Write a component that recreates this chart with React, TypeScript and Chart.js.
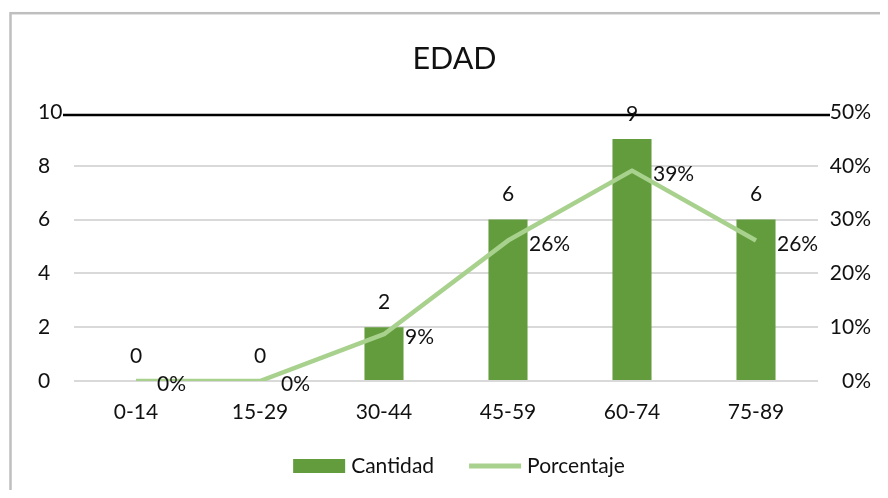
import { useEffect, useRef } from "react";
import { Chart, registerables } from "chart.js";

Chart.register(...registerables);

const title = "EDAD";
const categories = ["0-14", "15-29", "30-44", "45-59", "60-74", "75-89"];
const cantidad = [0, 0, 2, 6, 9, 6];
const porcentaje = [0, 0, 8.7, 26.1, 39.1, 26.1];
const seriesNames = ["Cantidad", "Porcentaje"];
const leftMax = 10;
const leftStep = 2;
const rightMax = 50;
const rightStep = 10;

const FONT = "Lato, 'Open Sans', sans-serif";
const FS = 21;
const BAR_COLOR = "#629C3C";
const LINE_COLOR = "#A9D18E";
const TEXT_COLOR = "#111111";

const decorPlugin = {
  id: "decor",
  beforeDraw(chart: any) {
    const { ctx, width, height } = chart;
    ctx.save();
    ctx.strokeStyle = "#bfbfbf";
    ctx.lineWidth = 2.5;
    ctx.strokeRect(2.5, 5.2, width + 20, height + 20);
    ctx.restore();
  },
  beforeDatasetsDraw(chart: any) {
    const { ctx, chartArea } = chart;
    ctx.save();
    ctx.strokeStyle = "#000";
    ctx.lineWidth = 2.5;
    ctx.beginPath();
    const y = chartArea.top + 3;
    ctx.moveTo(chartArea.left - 11, y);
    ctx.lineTo(chartArea.right + 12, y);
    ctx.stroke();
    ctx.restore();
  },
  afterDatasetsDraw(chart: any) {
    const { ctx } = chart;
    ctx.save();
    ctx.fillStyle = TEXT_COLOR;
    ctx.font = `${FS}px ${FONT}`;
    ctx.textBaseline = "middle";
    chart.data.datasets.forEach((ds: any, di: number) => {
      const meta = chart.getDatasetMeta(di);
      meta.data.forEach((el: any, i: number) => {
        const v = ds.data[i];
        if (ds.type === "bar") {
          ctx.textAlign = "center";
          ctx.fillText(String(v), el.x, el.y - 25);
        } else {
          ctx.textAlign = "left";
          ctx.fillText(Math.round(v) + "%", el.x + 21, el.y + 3.5);
        }
      });
    });
    ctx.restore();
  },
  afterDraw(chart: any) {
    const { ctx } = chart;
    ctx.save();
    ctx.font = `${FS}px ${FONT}`;
    ctx.textBaseline = "middle";
    ctx.textAlign = "left";
    const sw = 52;
    const gapText = 6;
    const gapItem = 35;
    const w1 = ctx.measureText(seriesNames[0]).width;
    const w2 = ctx.measureText(seriesNames[1]).width;
    const total = sw + gapText + w1 + gapItem + sw + gapText + w2;
    const cx = 451;
    const cy = 458;
    let x = cx - total / 2;
    ctx.fillStyle = BAR_COLOR;
    ctx.fillRect(x, cy - 7, sw, 14);
    x += sw + gapText;
    ctx.fillStyle = TEXT_COLOR;
    ctx.fillText(seriesNames[0], x, cy);
    x += w1 + gapItem;
    ctx.strokeStyle = LINE_COLOR;
    ctx.lineWidth = 5;
    ctx.beginPath();
    ctx.moveTo(x, cy);
    ctx.lineTo(x + sw, cy);
    ctx.stroke();
    x += sw + gapText;
    ctx.fillText(seriesNames[1], x, cy);
    ctx.restore();
  },
};

export default function App() {
  const ref = useRef<HTMLCanvasElement>(null);
  useEffect(() => {
    if (!ref.current) return;
    const chart = new Chart(ref.current, {
      data: {
        labels: categories,
        datasets: [
          {
            type: "line",
            label: seriesNames[1],
            data: porcentaje,
            yAxisID: "y1",
            borderColor: LINE_COLOR,
            borderWidth: 4.5,
            pointRadius: 0,
            borderJoinStyle: "round",
            borderCapStyle: "butt",
            tension: 0,
            order: 0,
          },
          {
            type: "bar",
            label: seriesNames[0],
            data: cantidad,
            yAxisID: "y",
            backgroundColor: BAR_COLOR,
            barPercentage: 0.315,
            categoryPercentage: 1,
            order: 1,
          },
        ],
      } as any,
      options: {
        responsive: false,
        animation: false,
        layout: { padding: { left: 30, right: 9, top: 0, bottom: 59 } },
        plugins: {
          legend: { display: false },
          tooltip: { enabled: false },
          title: {
            display: true,
            text: title,
            color: TEXT_COLOR,
            font: { family: FONT, size: 30.5, weight: "normal", lineHeight: 1.2 },
            padding: { top: 32.7, bottom: 34.7 },
          },
        },
        scales: {
          x: {
            offset: true,
            grid: { display: false, drawTicks: false },
            border: { display: false },
            ticks: { color: TEXT_COLOR, font: { family: FONT, size: FS }, padding: 18.5 },
            afterFit: (s: any) => {
              s.height = 50;
            },
          },
          y: {
            position: "left",
            min: 0,
            max: leftMax,
            grid: {
              drawTicks: false,
              lineWidth: 2,
              color: (c: any) => (c.tick && c.tick.value === leftMax ? "rgba(0,0,0,0)" : "#d9d9d9"),
            },
            border: { display: false },
            ticks: {
              stepSize: leftStep,
              color: TEXT_COLOR,
              font: { family: FONT, size: FS },
              crossAlign: "far",
              padding: 8,
            },
            afterFit: (s: any) => {
              s.width = 36;
            },
          },
          y1: {
            position: "right",
            min: 0,
            max: rightMax,
            grid: { display: false, drawTicks: false },
            border: { display: false },
            ticks: {
              stepSize: rightStep,
              color: TEXT_COLOR,
              font: { family: FONT, size: FS },
              crossAlign: "far",
              padding: 8,
              callback: (v: any) => v + "%",
            },
            afterFit: (s: any) => {
              s.width = 53;
            },
          },
        },
      } as any,
      plugins: [decorPlugin],
    });
    return () => chart.destroy();
  }, []);
  return (
    <div style={{ width: 872, height: 482 }}>
      <canvas ref={ref} width={872} height={482} style={{ display: "block" }} />
    </div>
  );
}
